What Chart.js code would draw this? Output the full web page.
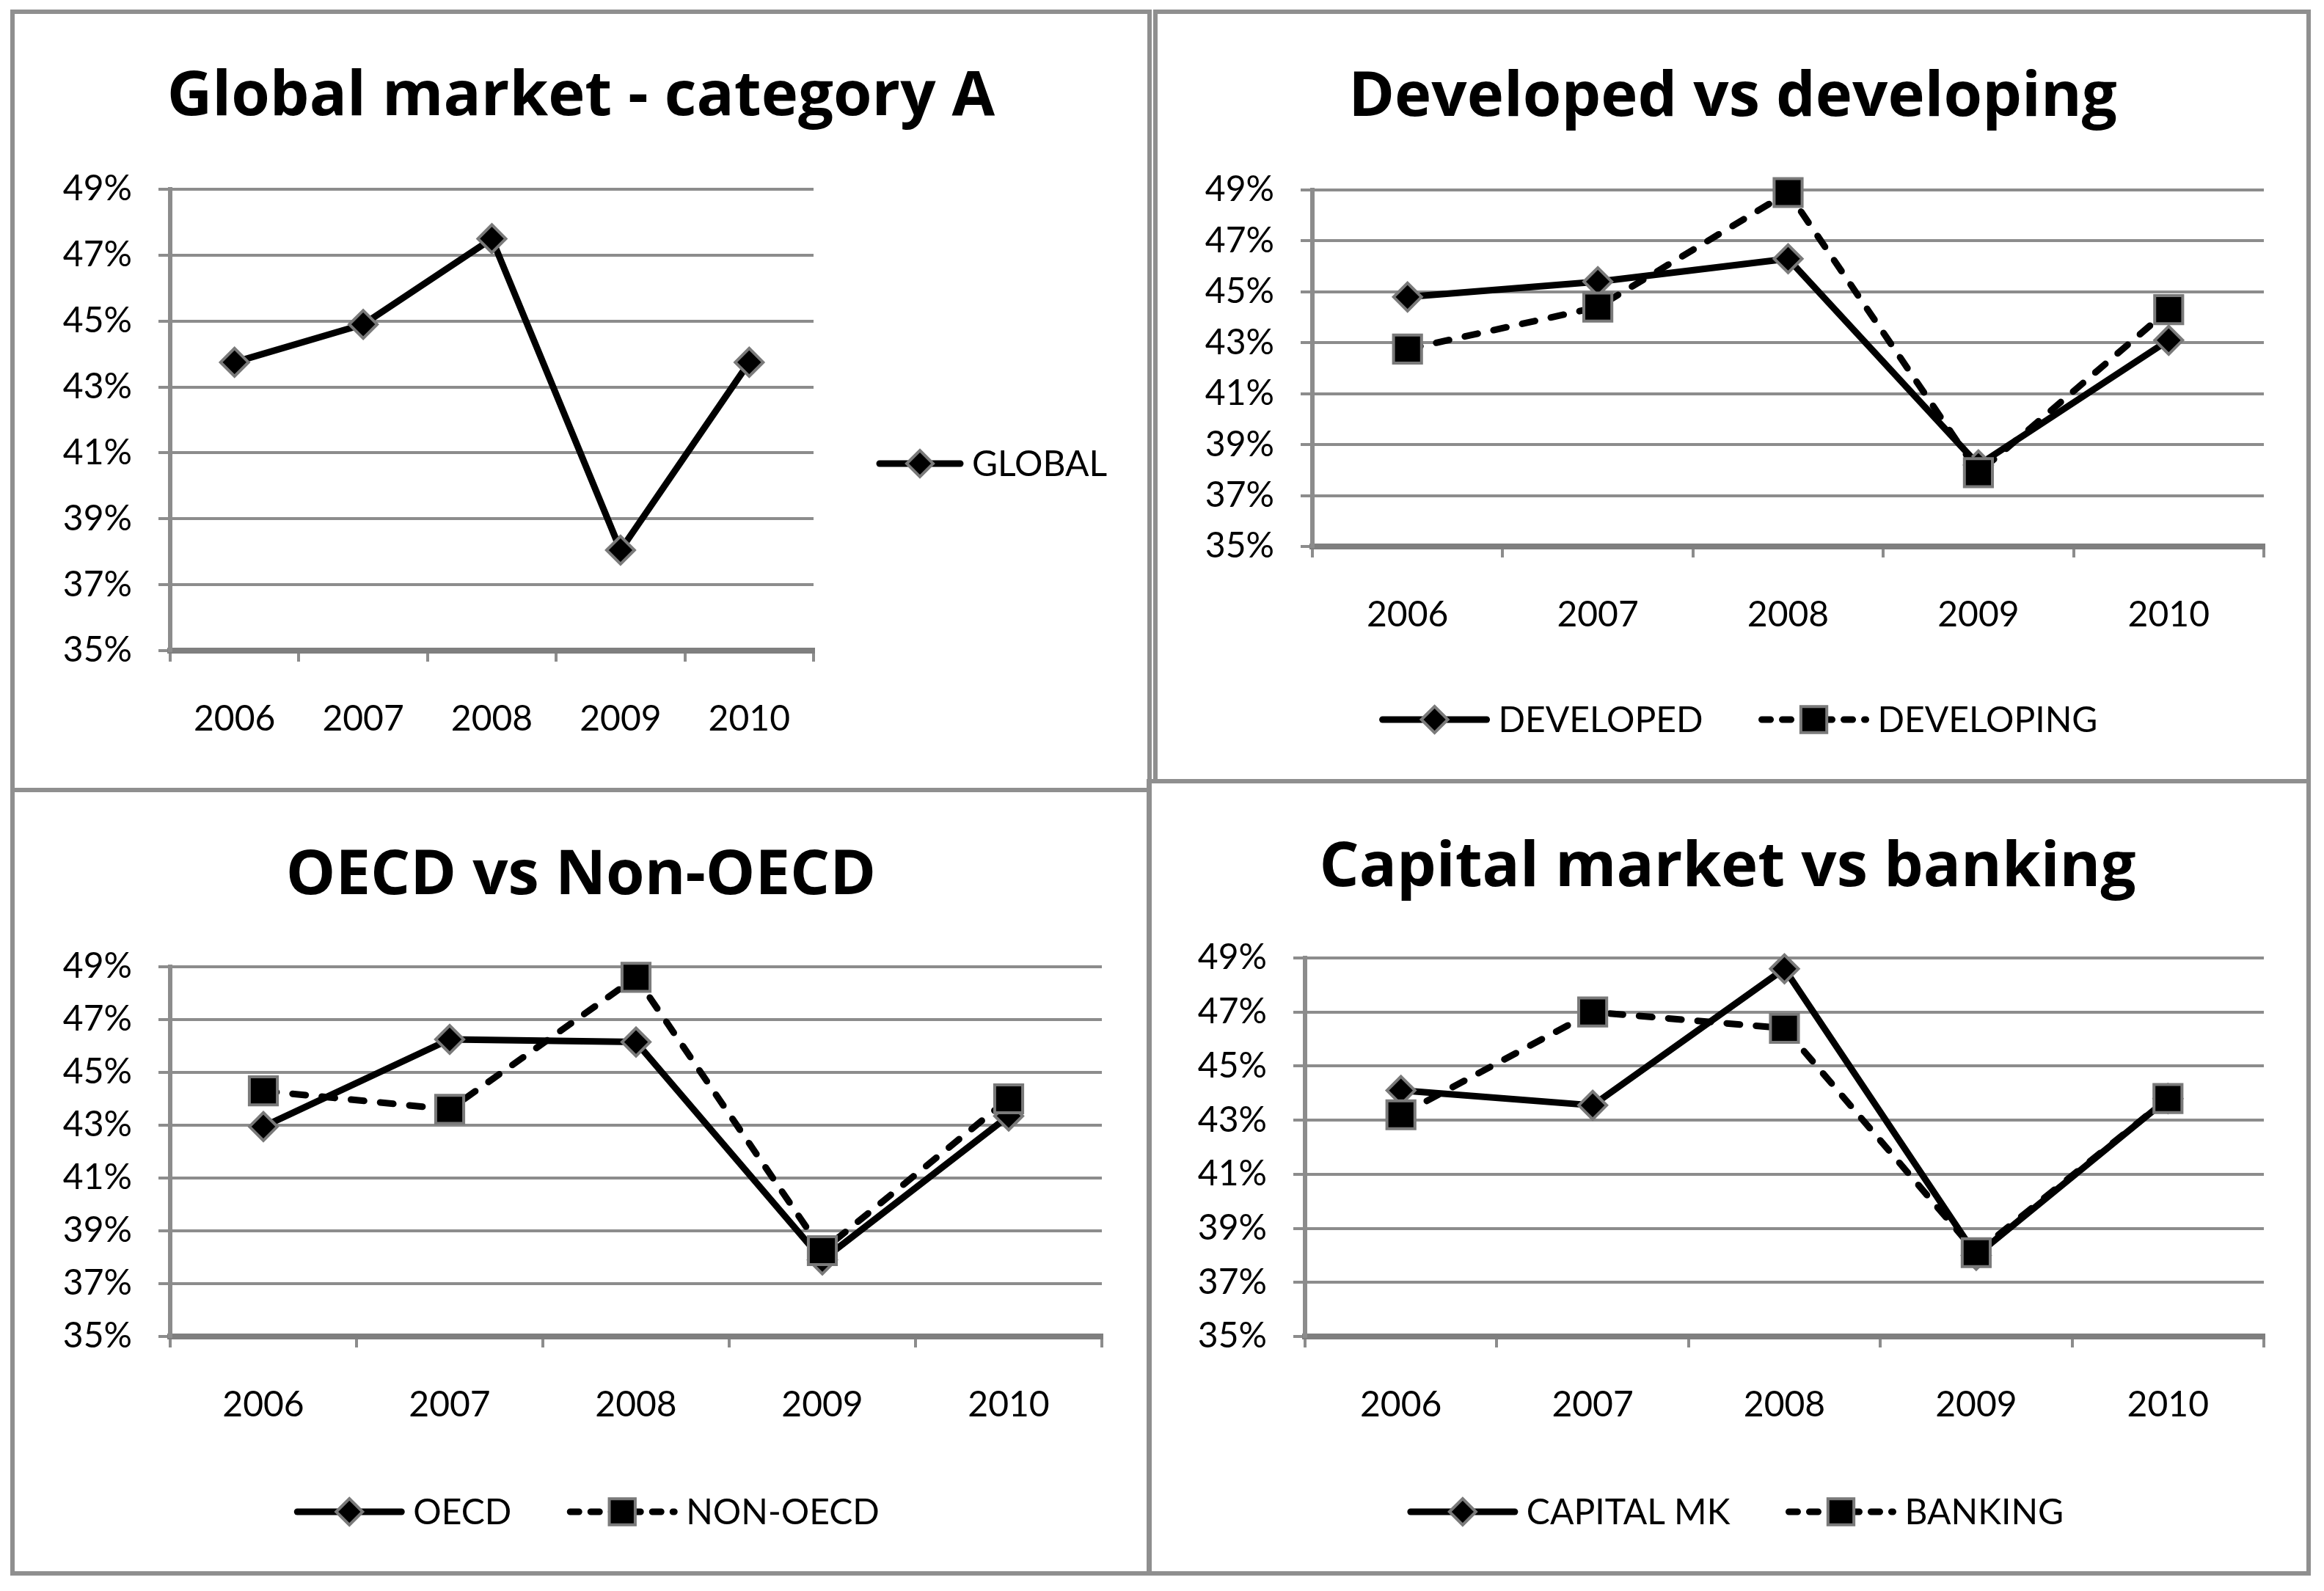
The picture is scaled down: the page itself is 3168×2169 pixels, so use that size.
<!DOCTYPE html>
<html lang="en">
<head>
    <meta charset="UTF-8">
    <title>Market charts</title>
    <script src="https://cdn.jsdelivr.net/npm/chart.js"></script>
    <style>
        body { margin: 0; background: #fff; }
        #page { position: relative; width: 3168px; height: 2169px; background: #fff; overflow: hidden; }
        .frame { position: absolute; box-sizing: border-box; border: 6px solid #8f8f8f; }
        canvas { position: absolute; }
    </style>
</head>
<body>
<div id="page">
    <div class="frame" style="left:14px;top:13px;width:1556px;height:1067px"></div>
    <div class="frame" style="left:1572px;top:13px;width:1578px;height:1055px"></div>
    <div class="frame" style="left:14px;top:1074px;width:1556px;height:1074px"></div>
    <div class="frame" style="left:1563px;top:1062px;width:1587px;height:1086px"></div>
    <canvas id="c1" width="1544" height="1055" style="left:20px;top:19px"></canvas>
    <canvas id="c2" width="1566" height="1043" style="left:1578px;top:19px"></canvas>
    <canvas id="c3" width="1544" height="1062" style="left:20px;top:1080px"></canvas>
    <canvas id="c4" width="1575" height="1074" style="left:1569px;top:1068px"></canvas>
</div>

<script>
    // values (percent)
    const years = ['2006', '2007', '2008', '2009', '2010'];
    const globalVals = [43.75, 44.9, 47.5, 38.05, 43.75];
    const developed = [44.8, 45.4, 46.3, 38.2, 43.1];
    const developing = [42.75, 44.4, 48.9, 37.9, 44.3];
    const oecd = [42.95, 46.25, 46.15, 37.9, 43.35];
    const nonOecd = [44.3, 43.6, 48.6, 38.25, 44.0];
    const capitalMk = [44.1, 43.55, 48.6, 38.0, 43.8];
    const banking = [43.2, 47.0, 46.4, 38.1, 43.8];
    const yMin = 35, yMax = 49, yStep = 2;

    const GRID = '#8c8c8c';
    const FONT = 'Lato';
    const TITLE_FONT = 'Open Sans';

    Chart.defaults.font.family = FONT;
    Chart.defaults.color = '#000';

    function solidSet(label, data) {
        return {
            label: label, data: data,
            borderColor: '#000', borderWidth: 9,
            borderCapStyle: 'round', borderJoinStyle: 'round',
            pointStyle: 'rectRot', pointRadius: 19, pointHoverRadius: 19,
            pointBackgroundColor: '#000', pointBorderColor: '#7a7a7a', pointBorderWidth: 4,
            clip: false, order: 2
        };
    }

    function dashedSet(label, data) {
        return {
            label: label, data: data,
            borderColor: '#000', borderWidth: 9, borderDash: [18, 22],
            borderCapStyle: 'round', borderJoinStyle: 'round',
            pointStyle: 'rect', pointRadius: 27, pointHoverRadius: 27,
            pointBackgroundColor: '#000', pointBorderColor: '#7a7a7a', pointBorderWidth: 4,
            clip: false, order: 1
        };
    }

    // legend with line + marker, drawn by hand
    const lineLegend = {
        id: 'lineLegend',
        afterDraw(chart, args, opts) {
            const ctx = chart.ctx;
            const sets = chart.data.datasets;
            const lineLen = opts.lineLen || 150, gap = 12, itemGap = 76;
            ctx.save();
            ctx.font = '48px ' + FONT;
            const widths = sets.map(ds => lineLen + gap + ctx.measureText(ds.label).width);
            let x;
            if (opts.x !== undefined) {
                x = opts.x;
            } else {
                const total = widths.reduce((a, b) => a + b, 0) + itemGap * (sets.length - 1);
                x = opts.cx - total / 2;
            }
            const y = opts.y;
            sets.forEach((ds, i) => {
                ctx.beginPath();
                ctx.setLineDash(ds.borderDash ? [12, 16] : []);
                ctx.lineCap = 'round';
                ctx.lineWidth = 9;
                ctx.strokeStyle = '#000';
                ctx.moveTo(x + 4, y);
                ctx.lineTo(x + lineLen - 4, y);
                ctx.stroke();
                ctx.setLineDash([]);
                ctx.fillStyle = '#000';
                ctx.strokeStyle = ds.pointBorderColor;
                ctx.lineWidth = ds.pointBorderWidth;
                Chart.helpers.drawPoint(ctx, {
                    pointStyle: ds.pointStyle,
                    radius: ds.pointStyle === 'rect' ? 25 : 18,
                    borderWidth: ds.pointBorderWidth,
                    rotation: 0
                }, x + lineLen / 2, y);
                ctx.fillStyle = '#000';
                ctx.textAlign = 'left';
                ctx.textBaseline = 'middle';
                ctx.fillText(ds.label, x + lineLen + gap, y + 2);
                x += widths[i] + itemGap;
            });
            ctx.restore();
        }
    };

    function makeChart(id, cfg) {
        const scales = {
            x: {
                type: 'category',
                offset: true,
                grid: { offset: true, drawOnChartArea: false, drawTicks: true, tickLength: 15, color: GRID, lineWidth: 4 },
                border: { display: true, color: '#7f7f7f', width: 8 },
                ticks: { font: { size: 48 }, padding: 50, color: '#000', maxRotation: 0 },
                afterFit: s => { s.height = cfg.xHeight; }
            },
            y: {
                min: yMin, max: yMax,
                grid: { color: GRID, lineWidth: 4, drawTicks: true, tickLength: 16 },
                border: { display: true, color: GRID, width: 6 },
                ticks: { stepSize: yStep, font: { size: 48 }, padding: 36, color: '#000', callback: v => v + '%' },
                afterFit: s => { s.width = cfg.yWidth; }
            }
        };
        if (cfg.rightSpace) {
            // empty box on the right keeps room for the side legend
            scales.yr = {
                type: 'linear', position: 'right', display: true,
                grid: { display: false }, ticks: { display: false }, border: { display: false },
                afterFit: s => { s.width = cfg.rightSpace; }
            };
        }
        return new Chart(document.getElementById(id), {
            type: 'line',
            data: { labels: years, datasets: cfg.datasets },
            options: {
                responsive: false,
                animation: false,
                devicePixelRatio: 1,
                layout: { padding: cfg.padding },
                scales: scales,
                plugins: {
                    legend: { display: false },
                    tooltip: { enabled: false },
                    title: {
                        display: true, text: cfg.title, color: '#000',
                        font: { family: TITLE_FONT, size: 85, weight: 'bold' },
                        padding: cfg.titlePad
                    },
                    lineLegend: cfg.legend
                }
            },
            plugins: [lineLegend]
        });
    }

    function build() {
        makeChart('c1', {
            title: 'Global market - category A',
            datasets: [solidSet('GLOBAL', globalVals)],
            padding: { left: 0, right: 0, top: 0, bottom: 0 },
            titlePad: { top: 63, bottom: 74 },
            yWidth: 212, xHeight: 187, rightSpace: 455,
            legend: { x: 1175, y: 613, lineLen: 118 }
        });
        makeChart('c2', {
            title: 'Developed vs developing',
            datasets: [solidSet('DEVELOPED', developed), dashedSet('DEVELOPING', developing)],
            padding: { left: 60, right: 58, top: 0, bottom: 167 },
            titlePad: { top: 64, bottom: 74 },
            yWidth: 151, xHeight: 150,
            legend: { cx: 792, y: 962 }
        });
        makeChart('c3', {
            title: 'OECD vs Non-OECD',
            datasets: [solidSet('OECD', oecd), dashedSet('NON-OECD', nonOecd)],
            padding: { left: 62, right: 62, top: 0, bottom: 170 },
            titlePad: { top: 64, bottom: 72 },
            yWidth: 150, xHeight: 150,
            legend: { cx: 780, y: 981 }
        });
        makeChart('c4', {
            title: 'Capital market vs banking',
            datasets: [solidSet('CAPITAL MK', capitalMk), dashedSet('BANKING', banking)],
            padding: { left: 55, right: 58, top: 0, bottom: 170 },
            titlePad: { top: 65, bottom: 71 },
            yWidth: 155, xHeight: 150,
            legend: { cx: 797, y: 993 }
        });
    }

    if (document.fonts && document.fonts.load) {
        Promise.all([
            document.fonts.load('bold 85px ' + TITLE_FONT),
            document.fonts.load('48px ' + FONT)
        ]).then(build, build);
    } else {
        build();
    }
</script>
</body>
</html>
